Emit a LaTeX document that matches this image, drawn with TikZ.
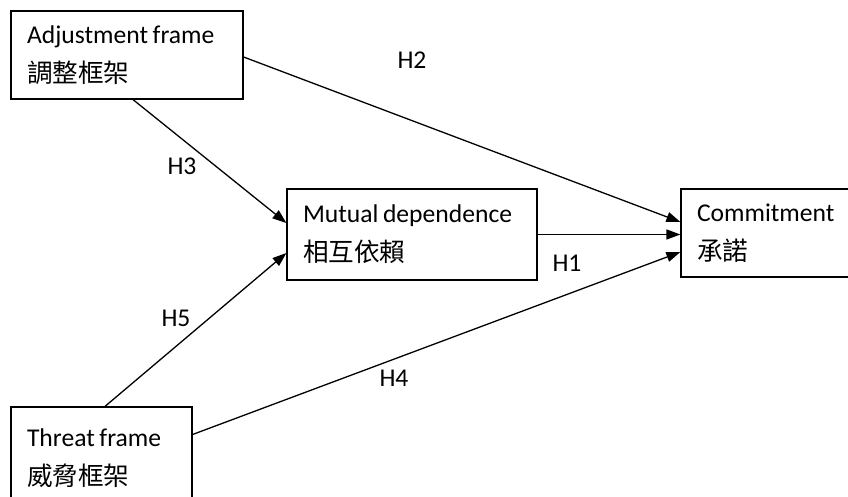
\documentclass[tikz,border=0pt]{standalone}
\usepackage{fontspec}
\setmainfont{Carlito}
\newfontfamily\cjk{Noto Sans CJK TC}
\usetikzlibrary{arrows.meta, calc}
\tikzset{
  frame/.style={draw, line width=0.6pt, rectangle, align=left,
    inner xsep=8pt, inner ysep=0pt, font=\fontsize{12.8}{19.5}\selectfont,
    execute at begin node={\spaceskip=0.18em\relax}},
  hyp/.style={font=\fontsize{12.8}{15}\selectfont, inner sep=1pt},
  link/.style={line width=0.65pt, -{Triangle[length=7pt,width=5pt]}}
}

\begin{document}
\begin{tikzpicture}[x=0.5pt, y=-0.5pt]
  \useasboundingbox (0,0) rectangle (848,497);
  % the four constructs
  \node[frame, text width=100pt, minimum height=44pt] (adj) at (127,55)
    {Adjustment frame\\{\cjk 調整框架}};
  \node[frame, text width=109pt, minimum height=45.5pt] (mut) at (412,234.5)
    {Mutual dependence\\{\cjk 相互依賴}};
  \node[frame, text width=74pt, minimum height=44pt] (com) at (771,233)
    {Commitment\\{\cjk 承諾}};
  \node[frame, text width=74.5pt, minimum height=51.5pt] (thr) at (101.5,458.5)
    {Threat frame\\{\cjk 威脅框架}};

  % hypotheses
  \draw[link] ([yshift=-1pt]adj.east) -- ([yshift=5.5pt]com.west);
  \draw[link] ([xshift=3pt]adj.south) -- ([yshift=5.75pt]mut.west);
  \draw[link] (mut.east) -- (mut.east -| com.west);
  \draw[link] ([xshift=1.75pt]thr.north) -- ([yshift=-9.25pt]mut.west);
  \draw[link] ([yshift=12pt]thr.east) -- ([yshift=-9.5pt]com.west);

  \node[hyp] (h1) at (567,263) {H1};
  \node[hyp] (h2) at (412,60) {H2};
  \node[hyp] (h3) at (182,166) {H3};
  \node[hyp] (h4) at (394,378) {H4};
  \node[hyp] (h5) at (176,318) {H5};
\end{tikzpicture}
\end{document}
